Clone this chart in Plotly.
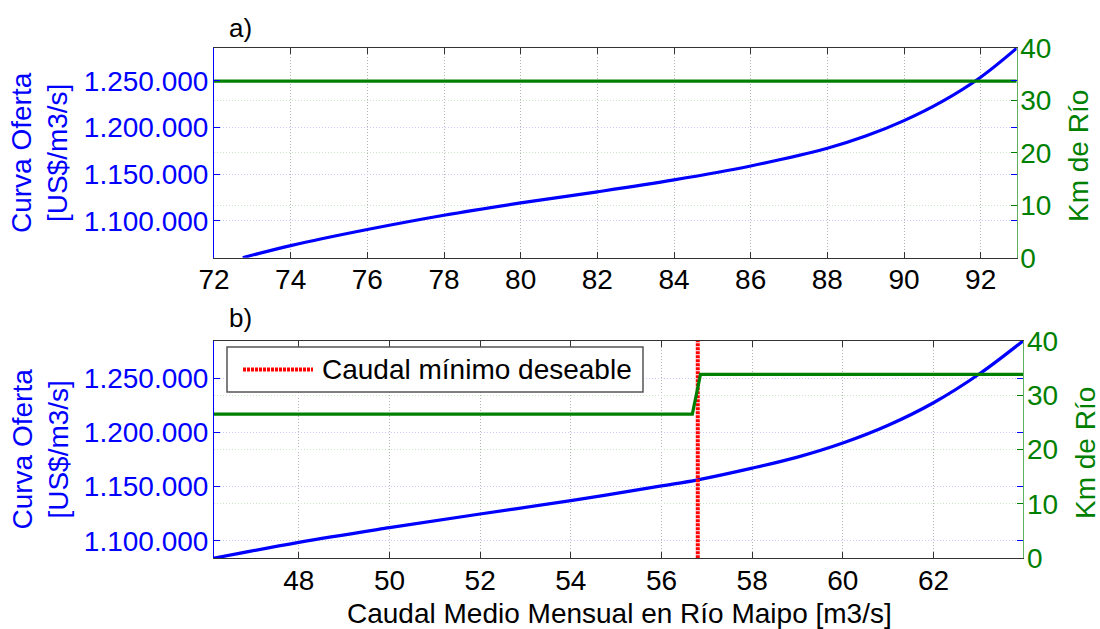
import plotly.graph_objects as go

# Panel a): curva de oferta y km de río en función del caudal
caudal_a = [72.75, 74, 76, 78, 80, 82, 84, 86, 88, 89, 90, 91, 92, 92.94]
oferta_a = [1060600, 1073600, 1090800, 1106100, 1119300, 1131200, 1144000,
            1158900, 1177800, 1190900, 1207500, 1228100, 1254000, 1285000]
km_caudal_a = [72, 92.94]
km_rio_a = [33.7, 33.7]

# Panel b)
caudal_b = [46.13, 48, 50, 52, 54, 56, 56.8, 58, 59, 60, 61, 62, 63, 63.98]
oferta_b = [1083800, 1098500, 1112000, 1124700, 1137000, 1150600, 1156200,
            1167000, 1177200, 1190200, 1206600, 1227400, 1253700, 1284700]
km_caudal_b = [46.13, 56.68, 56.86, 63.98]
km_rio_b = [26.5, 26.5, 33.8, 33.8]
caudal_minimo = 56.8

ticks_a = list(range(72, 93, 2))
ticks_b = list(range(48, 63, 2))

BLUE = "#0000ff"
GREEN = "#008000"
RED = "#ff0000"
FONT = "Arial, Liberation Sans, sans-serif"
FS = 28       # títulos y leyenda
FS_TICK = 28  # etiquetas de ticks

W, H = 1100, 629


def px_x(p):
    return p / W


def px_y(p):
    return (H - p) / H


fig = go.Figure()

fig.add_trace(go.Scatter(x=caudal_a, y=oferta_a, mode="lines", xaxis="x", yaxis="y",
                         line=dict(color=BLUE, width=3.2, shape="spline"), showlegend=False))
fig.add_trace(go.Scatter(x=km_caudal_a, y=km_rio_a, mode="lines", xaxis="x", yaxis="y2",
                         line=dict(color=GREEN, width=3.2), showlegend=False))

fig.add_trace(go.Scatter(x=caudal_b, y=oferta_b, mode="lines", xaxis="x2", yaxis="y3",
                         line=dict(color=BLUE, width=3.2, shape="spline"), showlegend=False))
fig.add_trace(go.Scatter(x=[caudal_minimo, caudal_minimo], y=[0, 40], mode="lines",
                         xaxis="x2", yaxis="y4", name="Caudal mínimo deseable",
                         line=dict(color=RED, width=4, dash="3px,1px"), showlegend=False))
fig.add_trace(go.Scatter(x=km_caudal_b, y=km_rio_b, mode="lines", xaxis="x2", yaxis="y4",
                         line=dict(color=GREEN, width=3.2), showlegend=False))

xa_common = dict(
    ticks="inside", ticklen=6, tickcolor="#333", showline=True, linecolor="#333",
    linewidth=1, mirror="ticks", showgrid=True, gridcolor="#b4b4b4", griddash="1px,2px",
    zeroline=False, tickfont=dict(family=FONT, size=FS_TICK, color="#000"),
    ticklabelstandoff=-3, automargin=False,
)
yl_common = dict(
    ticks="inside", ticklen=6, tickcolor=BLUE, showline=True, linecolor=BLUE,
    linewidth=1, mirror="ticks", showgrid=True, gridcolor="#c8c8ff", griddash="1px,2px",
    zeroline=False, tickfont=dict(family=FONT, size=FS_TICK, color=BLUE),
    dtick=50000, tick0=1100000, tickformat=",.0f", ticklabelstandoff=-1, automargin=False,
)
yr_common = dict(
    ticks="inside", ticklen=6, tickcolor=GREEN, showline=True, linecolor="#5fb05f",
    linewidth=1, showgrid=True, gridcolor="#cce6cc", griddash="1px,2px",
    zeroline=False, tickfont=dict(family=FONT, size=FS_TICK, color=GREEN),
    side="right", range=[0, 40], dtick=10, ticklabelstandoff=-3, automargin=False,
)

fig.update_layout(
    width=W, height=H,
    margin=dict(l=0, r=0, t=0, b=0, autoexpand=False),
    paper_bgcolor="white", plot_bgcolor="white",
    separators=",.",
    font=dict(family=FONT, size=FS),
    xaxis=dict(domain=[px_x(214), px_x(1016.7)], anchor="y", range=[72, 92.94],
               tickvals=ticks_a, **xa_common),
    yaxis=dict(domain=[px_y(257.7), px_y(48)], anchor="x", range=[1060600, 1285300],
               **yl_common),
    yaxis2=dict(overlaying="y", anchor="x", **yr_common),
    xaxis2=dict(domain=[px_x(214), px_x(1023.3)], anchor="y3", range=[46.13, 63.98],
                tickvals=ticks_b, **xa_common),
    yaxis3=dict(domain=[px_y(558.3), px_y(340.7)], anchor="x2", range=[1083740, 1284730],
                **yl_common),
    yaxis4=dict(overlaying="y3", anchor="x2", **yr_common),
    showlegend=False,
)

ann = []
# Etiquetas de panel
ann.append(dict(text="a)", x=px_x(227), y=px_y(28), xref="paper", yref="paper",
                xanchor="left", yanchor="middle", showarrow=False,
                font=dict(family=FONT, size=26, color="#000")))
ann.append(dict(text="b)", x=px_x(227), y=px_y(318), xref="paper", yref="paper",
                xanchor="left", yanchor="middle", showarrow=False,
                font=dict(family=FONT, size=26, color="#000")))
# Títulos de ejes
for yc in (153, 449.5):
    ann.append(dict(text="Curva Oferta<br>[US$/m3/s]", x=px_x(40), y=px_y(yc),
                    xref="paper", yref="paper", xanchor="center", yanchor="middle",
                    textangle=-90, showarrow=False,
                    font=dict(family=FONT, size=FS, color=BLUE)))
ann.append(dict(text="Km de Río", x=px_x(1079), y=px_y(156), xref="paper", yref="paper",
                xanchor="center", yanchor="middle", textangle=-90, showarrow=False,
                font=dict(family=FONT, size=FS, color=GREEN)))
ann.append(dict(text="Km de Río", x=px_x(1085), y=px_y(453), xref="paper", yref="paper",
                xanchor="center", yanchor="middle", textangle=-90, showarrow=False,
                font=dict(family=FONT, size=FS, color=GREEN)))
ann.append(dict(text="Caudal Medio Mensual en Río Maipo [m3/s]", x=px_x(619), y=px_y(613),
                xref="paper", yref="paper", xanchor="center", yanchor="middle",
                showarrow=False, font=dict(family=FONT, size=FS, color="#000")))
# Leyenda
ann.append(dict(text="Caudal mínimo deseable", x=px_x(320), y=px_y(369.5),
                xref="paper", yref="paper", xanchor="left", yanchor="middle",
                showarrow=False, font=dict(family=FONT, size=FS, color="#000")))
fig.update_layout(annotations=ann)

fig.update_layout(shapes=[
    dict(type="rect", xref="paper", yref="paper", x0=px_x(227), x1=px_x(643),
         y0=px_y(392), y1=px_y(347), line=dict(color="#555", width=1.5),
         fillcolor="white", layer="above"),
    dict(type="line", xref="paper", yref="paper", x0=px_x(243), x1=px_x(313),
         y0=px_y(369.5), y1=px_y(369.5), line=dict(color=RED, width=4, dash="3px,1px"),
         layer="above"),
])

fig.write_html("out.html")
